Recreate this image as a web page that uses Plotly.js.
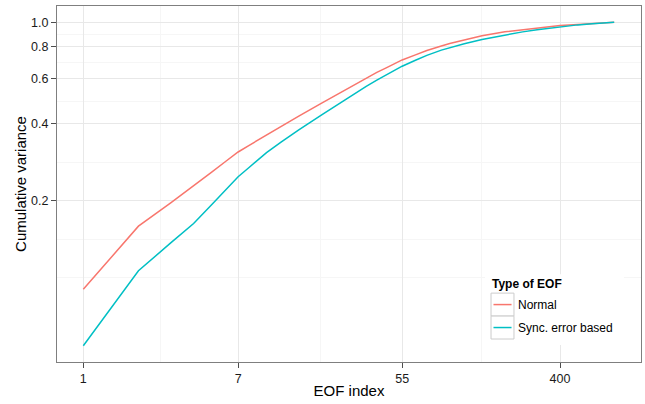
<!DOCTYPE html>
<html>
<head>
<meta charset="utf-8">
<script src="https://cdn.plot.ly/plotly-3.0.1.min.js"></script>
<style>
html,body{margin:0;padding:0;background:#fff;}
#chart{width:645px;height:404px;}
</style>
</head>
<body>
<div id="chart"></div>
<script>
// EOF index values at which the curves were read
var eofIndex = [1, 2, 3, 4, 5, 6, 7, 8, 10, 12, 15, 20, 25, 30, 35, 40, 45, 55, 65, 75, 90, 100, 120, 150, 200, 250, 300, 400, 500, 600, 700, 790];
// Cumulative variance, normal EOFs
var normalVar = [0.0902, 0.1593, 0.1966, 0.2285, 0.2584, 0.2858, 0.3107, 0.3292, 0.3627, 0.3915, 0.4295, 0.4828, 0.5282, 0.5685, 0.6049, 0.6361, 0.6630, 0.7117, 0.7452, 0.7753, 0.8074, 0.8257, 0.8514, 0.8849, 0.9173, 0.9357, 0.9509, 0.9708, 0.9804, 0.9884, 0.9967, 1.0];
// Cumulative variance, synchronisation-error based EOFs
var syncVar = [0.0543, 0.1066, 0.1370, 0.1632, 0.1929, 0.2216, 0.2486, 0.2696, 0.3090, 0.3394, 0.3794, 0.4341, 0.4824, 0.5243, 0.5614, 0.5935, 0.6219, 0.6727, 0.7097, 0.7418, 0.7775, 0.7951, 0.8234, 0.8558, 0.8920, 0.9165, 0.9348, 0.9603, 0.9760, 0.9866, 0.9964, 1.0];

var seriesNames = ["Normal", "Sync. error based"];
var seriesColors = ["#F8766D", "#00BFC4"];
var legendTitle = "Type of EOF";
var xTicks = [1, 7, 55, 400];
var yTicks = [0.2, 0.4, 0.6, 0.8, 1.0];
var yTickText = ["0.2", "0.4", "0.6", "0.8", "1.0"];
var xMinor = [2.6458, 19.621, 148.32];
var yMinor = [0.1, 0.1414, 0.2828, 0.4899, 0.6928, 0.8944];

var font = '"Liberation Sans", Arial, Helvetica, sans-serif';

var traces = [
  {x: eofIndex, y: normalVar, name: seriesNames[0], type: 'scatter', mode: 'lines',
   line: {color: seriesColors[0], width: 1.5}, showlegend: false},
  {x: eofIndex, y: syncVar, name: seriesNames[1], type: 'scatter', mode: 'lines',
   line: {color: seriesColors[1], width: 1.5}, showlegend: false}
];

// legend drawn inside the panel (ggplot style keys)
var keyRows = [0.1613, 0.0968];
var shapes = [
  {type: 'rect', xref: 'paper', yref: 'paper', x0: 0.7329, x1: 0.9709, y0: 0.0477, y1: 0.2468,
   fillcolor: '#ffffff', line: {width: 0}, layer: 'above'}
];
var annotations = [
  {xref: 'paper', yref: 'paper', x: 0.7415, y: 0.2188, xanchor: 'left', yanchor: 'middle',
   text: '<b>' + legendTitle + '</b>', showarrow: false,
   font: {family: font, size: 12, color: '#000'}}
];
seriesNames.forEach(function (nm, i) {
  var yc = keyRows[i];
  shapes.push({type: 'rect', xref: 'paper', yref: 'paper', x0: 0.7432, x1: 0.7825,
    y0: yc - 0.0322, y1: yc + 0.0322, fillcolor: '#ffffff', line: {color: '#cccccc', width: 1}, layer: 'above'});
  shapes.push({type: 'line', xref: 'paper', yref: 'paper', x0: 0.7474, x1: 0.7783,
    y0: yc, y1: yc, line: {color: seriesColors[i], width: 1.5}, layer: 'above'});
  annotations.push({xref: 'paper', yref: 'paper', x: 0.7860, y: yc, xanchor: 'left', yanchor: 'middle',
    text: nm, showarrow: false, font: {family: font, size: 12, color: '#000'}});
});

var layout = {
  width: 645, height: 404,
  margin: {l: 57, r: 4, t: 5.5, b: 42, pad: 0},
  paper_bgcolor: '#ffffff', plot_bgcolor: '#ffffff',
  font: {family: font, size: 12.5, color: '#1a1a1a'},
  showlegend: false,
  shapes: shapes,
  annotations: annotations,
  xaxis: {
    type: 'log', range: [-0.1436, 3.044],
    tickmode: 'array', tickvals: xTicks, ticktext: xTicks.map(String),
    ticks: 'outside', ticklen: 5, tickcolor: '#4d4d4d', tickwidth: 1,
    showgrid: true, gridcolor: '#e8e8e8', gridwidth: 1,
    minor: {tickmode: 'array', tickvals: xMinor, showgrid: true, gridcolor: '#f6f6f6', gridwidth: 1, ticks: ''},
    showline: true, mirror: true, linecolor: '#7f7f7f', linewidth: 1,
    zeroline: false,
    tickfont: {family: font, size: 12.5, color: '#1a1a1a'},
    title: {text: 'EOF index', font: {family: font, size: 15, color: '#000'}, standoff: 0}
  },
  yaxis: {
    type: 'log', range: [-1.329, 0.0633],
    tickmode: 'array', tickvals: yTicks, ticktext: yTickText,
    ticks: 'outside', ticklen: 5, tickcolor: '#4d4d4d', tickwidth: 1,
    showgrid: true, gridcolor: '#e8e8e8', gridwidth: 1,
    minor: {tickmode: 'array', tickvals: yMinor, showgrid: true, gridcolor: '#f6f6f6', gridwidth: 1, ticks: ''},
    showline: true, mirror: true, linecolor: '#7f7f7f', linewidth: 1,
    zeroline: false,
    tickfont: {family: font, size: 12.5, color: '#1a1a1a'},
    title: {text: 'Cumulative variance', font: {family: font, size: 15, color: '#000'}, standoff: 0}
  }
};

Plotly.newPlot('chart', traces, layout, {displayModeBar: false, staticPlot: true});
</script>
</body>
</html>
